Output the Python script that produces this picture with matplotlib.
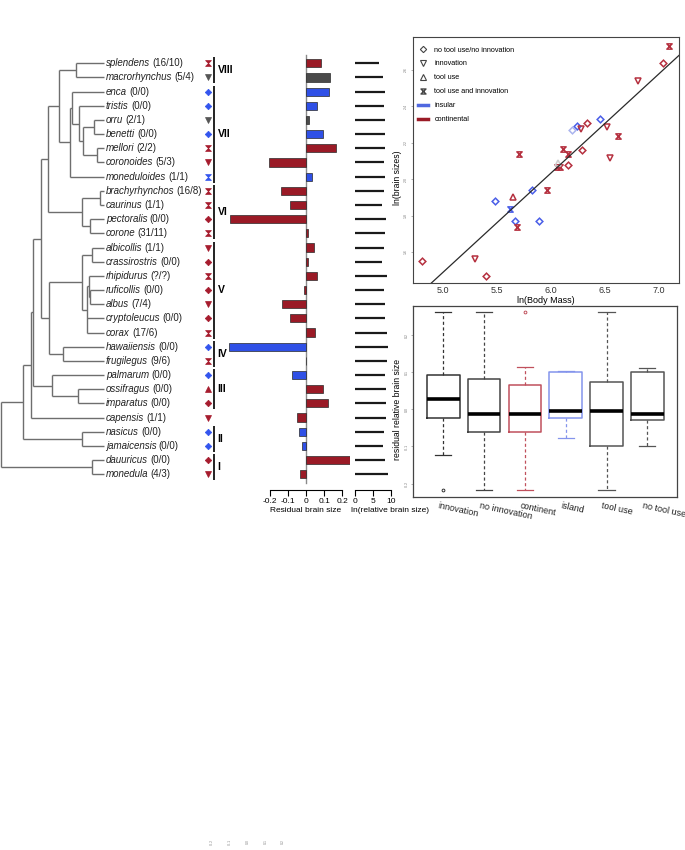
import matplotlib
matplotlib.use('Agg')
import matplotlib.pyplot as plt
from matplotlib.path import Path
from matplotlib.lines import Line2D

plt.rcParams['font.family'] = ['Liberation Sans', 'DejaVu Sans']

W, H = 685, 850

# ---------------- data ----------------
species = ['splendens', 'macrorhynchus', 'enca', 'tristis', 'orru', 'benetti', 'mellori',
           'coronoides', 'moneduloides', 'brachyrhynchos', 'caurinus', 'pectoralis', 'corone',
           'albicollis', 'crassirostris', 'rhipidurus', 'ruficollis', 'albus', 'cryptoleucus',
           'corax', 'hawaiiensis', 'frugilegus', 'palmarum', 'ossifragus', 'imparatus',
           'capensis', 'nasicus', 'jamaicensis', 'dauuricus', 'monedula']
counts = ['(16/10)', '(5/4)', '(0/0)', '(0/0)', '(2/1)', '(0/0)', '(2/2)', '(5/3)', '(1/1)',
          '(16/8)', '(1/1)', '(0/0)', '(31/11)', '(1/1)', '(0/0)', '(?/?)', '(0/0)', '(7/4)',
          '(0/0)', '(17/6)', '(0/0)', '(9/6)', '(0/0)', '(0/0)', '(0/0)', '(1/1)', '(0/0)',
          '(0/0)', '(0/0)', '(4/3)']
# c = continental, i = insular, u = unknown
habitat = ['c', 'u', 'i', 'i', 'u', 'i', 'c', 'c', 'i', 'c', 'c', 'c', 'c', 'c', 'c', 'c',
           'c', 'c', 'c', 'c', 'i', 'c', 'i', 'c', 'c', 'c', 'i', 'i', 'c', 'c']
# hg = tool use and innovation, td = innovation, di = none, tu = tool use
behaviour = ['hg', 'td', 'di', 'di', 'td', 'di', 'hg', 'td', 'hg', 'hg', 'hg', 'di', 'hg',
             'td', 'di', 'hg', 'di', 'td', 'di', 'hg', 'di', 'hg', 'di', 'tu', 'di', 'td',
             'di', 'di', 'di', 'td']
residual = [0.081, 0.132, 0.125, 0.060, 0.016, 0.092, 0.167, -0.203, 0.031, -0.137, -0.088,
            -0.418, 0.011, 0.042, 0.011, 0.062, -0.011, -0.130, -0.090, 0.051, -0.421, 0.002,
            -0.077, 0.095, 0.121, -0.048, -0.038, -0.024, 0.260, -0.033]
ln_rel = [6.7, 7.6, 8.3, 8.0, 8.15, 8.25, 8.3, 8.0, 8.25, 8.05, 7.5, 8.5, 8.25, 8.05, 7.5,
          8.7, 7.9, 8.15, 8.3, 8.8, 9.0, 8.9, 8.25, 8.45, 8.5, 8.5, 8.05, 7.8, 8.15, 9.0]
clades = [('VIII', 0, 1), ('VII', 2, 8), ('VI', 9, 12), ('V', 13, 19), ('IV', 20, 21),
          ('III', 22, 24), ('II', 26, 27), ('I', 28, 29)]
# tree: node -> (depth position, children); ints are tips
tree_nodes = {
    'VIII': (76.0, [0, 1]), 'orbe': (94.3, [4, 5]), 'meco': (97.3, [6, 7]),
    'C': (83.3, ['orbe', 'meco']), 'B': (79.0, [3, 'C']), 'A': (71.7, [2, 'B']),
    'VII': (70.0, ['A', 8]), 'VII_VIII': (59.3, ['VIII', 'VII']),
    'brca': (100.5, [9, 10]), 'peco': (90.0, [11, 12]), 'VI': (81.7, ['brca', 'peco']),
    'n47': (47.7, ['VII_VIII', 'VI']), 'alcr': (91.7, [13, 14]), 'rual': (90.3, [16, 17]),
    'rhi': (89.3, [15, 'rual']), 'Vlow': (86.7, ['rhi', 18, 19]), 'V': (81.7, ['alcr', 'Vlow']),
    'IV': (63.3, [20, 21]), 'V_IV': (49.3, ['V', 'IV']), 'n41': (41.0, ['n47', 'V_IV']),
    'osim': (77.7, [23, 24]), 'III': (52.3, [22, 'osim']), 'n33': (33.3, ['n41', 'III']),
    'n30': (30.7, ['n33', 25]), 'II': (81.7, [26, 27]), 'n22': (22.7, ['n30', 'II']),
    'I': (91.7, [28, 29]), 'root': (0.8, ['n22', 'I']),
}
tip_depth = 104.3

# scatter: ln(body mass), ln(brain size), behaviour, colour class
sc_x = [7.10, 7.045, 6.807, 6.456, 6.333, 6.518, 6.62, 6.24, 6.20, 6.28, 5.704, 6.11, 6.156,
        6.286, 6.549, 6.159, 6.054, 6.085, 5.824, 5.967, 5.65, 5.48, 5.62, 5.67, 5.887, 5.688,
        4.80, 5.295, 5.397, 6.07]
sc_y = [2.73, 2.637, 2.541, 2.329, 2.31, 2.285, 2.237, 2.29, 2.27, 2.274, 2.137, 2.166, 2.137,
        2.16, 2.115, 2.078, 2.069, 2.069, 1.94, 1.94, 1.90, 1.88, 1.835, 1.77, 1.77, 1.735,
        1.55, 1.56, 1.47, 2.09]
sc_beh = ['hg', 'di', 'td', 'di', 'di', 'td', 'hg', 'di', 'di', 'td', 'hg', 'hg', 'hg', 'di',
          'td', 'di', 'hg', 'hg', 'di', 'hg', 'tu', 'di', 'hg', 'di', 'di', 'hg', 'di', 'td',
          'di', 'tu']
sc_col = ['c', 'c', 'c', 'i', 'c', 'c', 'c', 'i', 'l', 'c', 'c', 'c', 'c', 'c', 'c', 'c', 'c',
          'c', 'i', 'c', 'c', 'i', 'i', 'i', 'i', 'c', 'c', 'c', 'c', 'g']
reg_intercept = -1.225
reg_slope = 0.543
sc_xticks = [5.0, 5.5, 6.0, 6.5, 7.0]
sc_yticks = [1.6, 1.8, 2.0, 2.2, 2.4, 2.6]

# boxplot stats
box_labels = ['innovation', 'no innovation', 'continent', 'island', 'tool use', 'no tool use']
box_med = [0.027, -0.0135, -0.0135, -0.004, -0.004, -0.0135]
box_q1 = [-0.023, -0.061, -0.061, -0.024, -0.100, -0.030]
box_q3 = [0.0915, 0.082, 0.066, 0.100, 0.074, 0.100]
box_lo = [-0.123, -0.218, -0.218, -0.078, -0.218, -0.100]
box_hi = [0.261, 0.261, 0.114, 0.104, 0.261, 0.110]
box_fliers = [[-0.218], [], [0.263], [], [], []]
box_yticks = [-0.2, -0.1, 0.0, 0.1, 0.2]
bottom_labels = ['-0.2', '-0.1', '0.0', '0.1', '0.2']

# ---------------- style ----------------
RED = '#9a1a26'
BLUE = '#2f50e6'
GRAY = '#4a4a4a'
hab_col = {'c': RED, 'i': BLUE, 'u': GRAY}
sym_col = {'c': '#a61c2e', 'i': '#3355ee', 'u': '#555555'}
sc_colmap = {'c': '#b5303f', 'i': '#4a5ee8', 'l': '#aab4ee', 'g': '#cfcfcf'}
hourglass = Path([(-1, 1), (1, 1), (0, 0), (-1, 1), (-1, -1), (1, -1), (0, 0), (-1, -1)],
                 [Path.MOVETO, Path.LINETO, Path.LINETO, Path.CLOSEPOLY,
                  Path.MOVETO, Path.LINETO, Path.LINETO, Path.CLOSEPOLY])
mk = {'hg': hourglass, 'td': 'v', 'di': 'D', 'tu': '^'}
mk_size = {'hg': 4.2, 'td': 4.2, 'di': 3.3, 'tu': 4.2}

row_y0, row_dy = 63.3, 14.17


def rect(l, t, r, b):
    return [l / W, 1 - b / H, (r - l) / W, (b - t) / H]


def row_px(i):
    return row_y0 + i * row_dy


fig = plt.figure(figsize=(W / 100, H / 100), dpi=100)
fig.patch.set_facecolor('white')

# ---------------- overlay (tree, labels) ----------------
ov = fig.add_axes([0, 0, 1, 1])
ov.set_xlim(0, W)
ov.set_ylim(H, 0)
ov.axis('off')


def node_y(n):
    if isinstance(n, int):
        return row_px(n)
    ys = [node_y(c) for c in tree_nodes[n][1]]
    return (min(ys) + max(ys)) / 2


for name, (nx, ch) in tree_nodes.items():
    ys = [node_y(c) for c in ch]
    ov.plot([nx, nx], [min(ys), max(ys)], color='#6e6e6e', lw=1.0, solid_capstyle='butt')
    for c in ch:
        cx = tip_depth if isinstance(c, int) else tree_nodes[c][0]
        cy = node_y(c)
        ov.plot([nx, cx], [cy, cy], color='#6e6e6e', lw=1.0, solid_capstyle='butt')

fig.canvas.draw()
renderer = fig.canvas.get_renderer()
inv = ov.transData.inverted()
for i, (sp, cnt) in enumerate(zip(species, counts)):
    y = row_px(i)
    t = ov.text(106, y, sp, fontsize=7, style='italic', color='#222222', va='center', ha='left')
    bb = t.get_window_extent(renderer)
    x1 = inv.transform((bb.x1, bb.y0))[0]
    ov.text(x1 + 2.2, y, cnt, fontsize=7, color='#222222', va='center', ha='left')
    ov.plot(208, y, marker=mk[behaviour[i]], ms=mk_size[behaviour[i]],
            color=sym_col[habitat[i]], mec=sym_col[habitat[i]], mew=0.5, ls='none')

for lab, a, b in clades:
    y0, y1 = row_px(a) - 6, row_px(b) + 6
    ov.plot([214, 214], [y0, y1], color='#111111', lw=1.3, solid_capstyle='butt')
    ov.text(217.5, (y0 + y1) / 2, lab, fontsize=7.5, fontweight='bold', va='center', ha='left')

for j, lab in enumerate(bottom_labels):
    ov.text(211.7 + j * 17.9, 841.5, lab, fontsize=2.5, rotation=90, color='#888888',
            ha='center', va='center')

# ---------------- residual bar chart ----------------
rows = list(range(len(species)))
ylo, yhi = (490 - row_y0) / row_dy, (50 - row_y0) / row_dy
axb = fig.add_axes(rect(225, 50, 350, 490))
axb.patch.set_visible(False)
axb.set_xlim(-0.445, 0.242)
axb.set_ylim(ylo, yhi)
axb.barh(rows, residual, height=0.58, color=[hab_col[h] for h in habitat],
         edgecolor='#2a2a2a', linewidth=0.5, zorder=3)
axb.plot([0, 0], [-0.6, 29.6], color='#8a8a8a', lw=1.0, zorder=2)
for s in ['top', 'left', 'right']:
    axb.spines[s].set_visible(False)
axb.spines['bottom'].set_bounds(-0.2, 0.2)
axb.spines['bottom'].set_linewidth(0.8)
axb.set_xticks([-0.2, -0.1, 0, 0.1, 0.2])
axb.set_xticklabels(['-0.2', '-0.1', '0', '0.1', '0.2'])
axb.set_yticks([])
axb.tick_params(axis='x', length=4, width=0.8, labelsize=6, pad=2)
fig.text(306 / W, 1 - 511 / H, 'Residual brain size', fontsize=6, ha='center', va='center')

# ---------------- ln relative brain size ----------------
axl = fig.add_axes(rect(352, 50, 400, 490))
axl.patch.set_visible(False)
axl.set_xlim(-0.92, 12.42)
axl.set_ylim(ylo, yhi)
axl.hlines(rows, 0, ln_rel, color='#1a1a1a', lw=1.6)
for s in ['top', 'left', 'right']:
    axl.spines[s].set_visible(False)
axl.spines['bottom'].set_bounds(0, 10)
axl.spines['bottom'].set_linewidth(0.8)
axl.set_xticks([0, 5, 10])
axl.set_yticks([])
axl.tick_params(axis='x', length=4, width=0.8, labelsize=6, pad=2)
fig.text(350.7 / W, 1 - 511 / H, 'ln(relative brain size)', fontsize=6, ha='left', va='center')

# ---------------- scatter ----------------
axs = fig.add_axes(rect(412.7, 37, 679, 283))
axs.set_xlim(4.716, 7.19)
axs.set_ylim(1.43, 2.78)
for x, y, b, c in zip(sc_x, sc_y, sc_beh, sc_col):
    col = sc_colmap[c]
    axs.plot(x, y, marker=mk[b], ms=3.8 if b != 'di' else 3.4, mfc='none', mec=col,
             mew=1.1, ls='none')
axs.axline((0, reg_intercept), slope=reg_slope, color='#2a2a2a', lw=0.9)
axs.set_xticks(sc_xticks)
axs.set_xticklabels([f'{v:.1f}' for v in sc_xticks])
axs.set_yticks(sc_yticks)
axs.set_yticklabels([f'{v:.1f}' for v in sc_yticks], rotation=90, va='center')
axs.tick_params(axis='x', length=0, labelsize=6.5, pad=2, labelcolor='#333333')
axs.tick_params(axis='y', length=1.5, width=0.4, labelsize=2.5, pad=2, labelcolor='#777777',
                color='#777777')
for s in axs.spines.values():
    s.set_color('#444444')
    s.set_linewidth(0.8)
fig.text(546 / W, 1 - 300.5 / H, 'ln(Body Mass)', fontsize=6.5, ha='center', va='center')
fig.text(397 / W, 1 - 178 / H, 'ln(brain sizes)', fontsize=6.2, rotation=90,
         ha='center', va='center')

handles = [
    Line2D([0], [0], marker='D', ms=3.2, mfc='none', mec='#444444', mew=0.8, ls='none'),
    Line2D([0], [0], marker='v', ms=4, mfc='none', mec='#444444', mew=0.8, ls='none'),
    Line2D([0], [0], marker='^', ms=4, mfc='none', mec='#444444', mew=0.8, ls='none'),
    Line2D([0], [0], marker=hourglass, ms=3.6, mfc='none', mec='#444444', mew=1.0, ls='none'),
    Line2D([0], [0], color='#5068e0', lw=2.5),
    Line2D([0], [0], color='#9a1a26', lw=2.5),
]
axs.legend(handles, ['no tool use/no innovation', 'innovation', 'tool use',
                     'tool use and innovation', 'insular', 'continental'],
           loc='upper left', bbox_to_anchor=(0.0, 0.985), frameon=False, fontsize=5.2,
           handlelength=1.3, handletextpad=0.9, labelspacing=0.95, borderaxespad=0.4)

# ---------------- boxplot ----------------
axx = fig.add_axes(rect(413.3, 305.7, 677.3, 497))
axx.set_xlim(0.265, 6.735)
axx.set_ylim(-0.236, 0.279)
box_cols = ['#333333', '#444444', '#c0505c', '#8494ec', '#555555', '#555555']
stats = []
for i in range(6):
    stats.append(dict(med=box_med[i], q1=box_q1[i], q3=box_q3[i], whislo=box_lo[i],
                      whishi=box_hi[i], fliers=box_fliers[i], label=box_labels[i]))
positions = list(range(1, 7))
for i in range(6):
    c = box_cols[i]
    axx.bxp([stats[i]], positions=[positions[i]], widths=0.8, showfliers=True,
            boxprops=dict(color=c, linewidth=1.1),
            whiskerprops=dict(color=c, linewidth=0.9, linestyle=(0, (2.5, 2))),
            capprops=dict(color=c, linewidth=0.9),
            medianprops=dict(color='black', linewidth=2.6, solid_capstyle='butt'),
            flierprops=dict(marker='o', ms=2, mfc='none', mec=c, mew=0.7))
axx.set_xticks([])
axx.set_yticks(box_yticks)
axx.set_yticklabels([f'{v:.1f}' for v in box_yticks], rotation=90, va='center')
axx.tick_params(axis='y', length=1.5, width=0.4, labelsize=2.5, pad=2, labelcolor='#777777',
                color='#777777')
for s in axx.spines.values():
    s.set_color('#444444')
    s.set_linewidth(0.9)
for p, lab in zip(positions, box_labels):
    axx.text(p - 0.1, -0.022, lab, transform=axx.get_xaxis_transform(), fontsize=6.5,
             rotation=-12, rotation_mode='anchor', ha='left', va='top', color='#222222')
fig.text(397 / W, 1 - 409 / H, 'residual relative brain size', fontsize=6.2, rotation=90,
         ha='center', va='center')

fig.savefig('out.png', dpi=100)
